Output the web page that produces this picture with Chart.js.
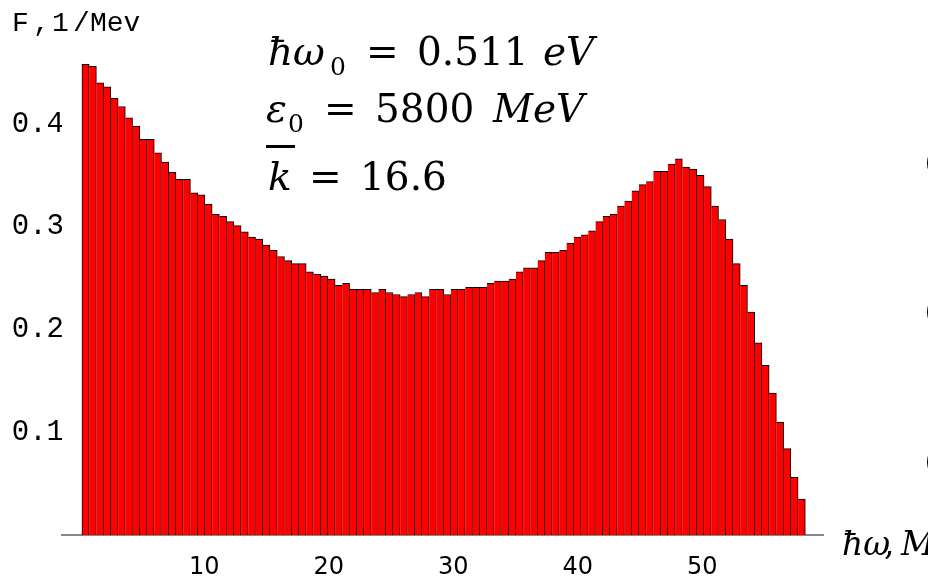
<!DOCTYPE html>
<html>
<head>
<meta charset="utf-8">
<script src="https://cdn.jsdelivr.net/npm/chart.js@4.4.0/dist/chart.umd.min.js"></script>
<style>
  html, body { margin: 0; padding: 0; background: #fff; }
  #wrap { width: 928px; height: 579px; }
</style>
</head>
<body>
<div id="wrap"><canvas id="chart" width="928" height="579"></canvas></div>
<script>
// histogram bins, photon energy in MeV
const binStart = 0.18;
const binWidth = 0.581;

// F, 1/MeV for each bin (100 bins)
const values = [
  0.458, 0.456, 0.440, 0.436, 0.425, 0.417, 0.406, 0.398, 0.385, 0.385,
  0.372, 0.363, 0.353, 0.346, 0.346, 0.333, 0.331, 0.322, 0.312, 0.310,
  0.305, 0.301, 0.295, 0.290, 0.288, 0.282, 0.277, 0.271, 0.267, 0.264,
  0.264, 0.256, 0.254, 0.252, 0.249, 0.243, 0.245, 0.239, 0.239, 0.239,
  0.236, 0.239, 0.236, 0.234, 0.232, 0.234, 0.236, 0.232, 0.239, 0.239,
  0.234, 0.239, 0.239, 0.241, 0.241, 0.241, 0.245, 0.247, 0.247, 0.249,
  0.256, 0.260, 0.260, 0.267, 0.275, 0.275, 0.277, 0.284, 0.290, 0.292,
  0.296, 0.305, 0.310, 0.312, 0.320, 0.325, 0.335, 0.341, 0.344, 0.354,
  0.354, 0.361, 0.366, 0.358, 0.356, 0.350, 0.339, 0.320, 0.307, 0.288,
  0.264, 0.243, 0.217, 0.187, 0.165, 0.138, 0.110, 0.084, 0.056, 0.035
];

const xTicks = [10, 20, 30, 40, 50];
const yTicks = [0.1, 0.2, 0.3, 0.4];

const points = values.map((v, i) => ({ x: binStart + binWidth * (i + 0.5), y: v }));

const serif = "'DejaVu Serif', serif";

// text written on the plot (parameters, axis names)
const textPlugin = {
  id: "texts",
  afterDraw(chart) {
    const c = chart.ctx;
    c.save();
    c.fillStyle = "#000";
    c.textBaseline = "alphabetic";
    c.textAlign = "left";

    const big = (it) => (it ? "italic " : "") + "39px " + serif;
    const small = "25px " + serif;
    const lines = [
      { y: 65, runs: [["ħω", "i", 268], ["0", "s", 330], ["=", "r", 366], ["0.511", "r", 417], ["eV", "i", 543]] },
      { y: 122, runs: [["ε", "i", 266], ["0", "s", 288], ["=", "r", 324], ["5800", "r", 375], ["MeV", "i", 493]] },
      { y: 190, runs: [["k", "i", 268], ["=", "r", 309], ["16.6", "r", 360]] }
    ];
    lines.forEach((ln) => {
      ln.runs.forEach(([t, kind, x]) => {
        if (kind === "s") {
          c.font = small;
          c.fillText(t, x, ln.y + 10);
        } else {
          c.font = big(kind === "i");
          c.fillText(t, x, ln.y);
        }
      });
    });
    // bar over k
    c.fillRect(266, 145, 29, 3);

    // y axis name
    c.font = "28px 'Liberation Mono', monospace";
    c.textBaseline = "middle";
    [["F", 12], [",", 33], ["1", 52], ["/", 73], ["Mev", 90]].forEach(([t, x]) => c.fillText(t, x, 24));

    // x axis name (cut by the right edge)
    c.textBaseline = "alphabetic";
    c.font = "italic 33px " + serif;
    c.fillText("ħω", 842, 555);
    c.font = "33px " + serif;
    c.fillText(",", 884, 555);
    c.font = "italic 33px " + serif;
    c.fillText("MeV", 901, 555);

    // pieces of a neighbouring figure at the right edge
    c.font = "30px 'DejaVu Sans', sans-serif";
    c.textBaseline = "middle";
    [166, 315, 465].forEach((y) => c.fillText("0", 925, y));
    c.restore();
  }
};

new Chart(document.getElementById("chart").getContext("2d"), {
  type: "bar",
  data: {
    datasets: [
      {
        data: points,
        backgroundColor: "#ff0000",
        borderColor: "#000000",
        borderWidth: (ctx) => ({ left: ctx.dataIndex === 0 ? 1 : 0, right: 1, top: 1, bottom: 0 }),
        borderSkipped: false,
        barPercentage: 1,
        categoryPercentage: 1,
      },
    ],
  },
  options: {
    responsive: false,
    animation: false,
    layout: { padding: { top: 52, right: 105, left: 0, bottom: 0 } },
    plugins: { legend: { display: false }, tooltip: { enabled: false } },
    scales: {
      x: {
        type: "linear",
        min: -1.42,
        max: 59.7,
        offset: false,
        grid: { display: false },
        border: { display: true, color: "#888888", width: 2 },
        ticks: {
          color: "#000",
          font: { family: "'DejaVu Sans', sans-serif", size: 24 },
          padding: 10,
          maxRotation: 0,
        },
        afterBuildTicks: (s) => {
          s.ticks = xTicks.map((v) => ({ value: v }));
        },
        afterFit: (s) => {
          s.height = 44;
        },
      },
      y: {
        min: 0,
        max: 0.47,
        grid: { display: false },
        border: { display: false },
        ticks: {
          color: "#000",
          font: { family: "'Liberation Mono', monospace", size: 29 },
          padding: -10,
          callback: (v) => Number(v).toFixed(1),
        },
        afterBuildTicks: (s) => {
          s.ticks = yTicks.map((v) => ({ value: v }));
        },
        afterFit: (s) => {
          s.width = 62;
        },
      },
    },
  },
  plugins: [textPlugin],
});
</script>
</body>
</html>
